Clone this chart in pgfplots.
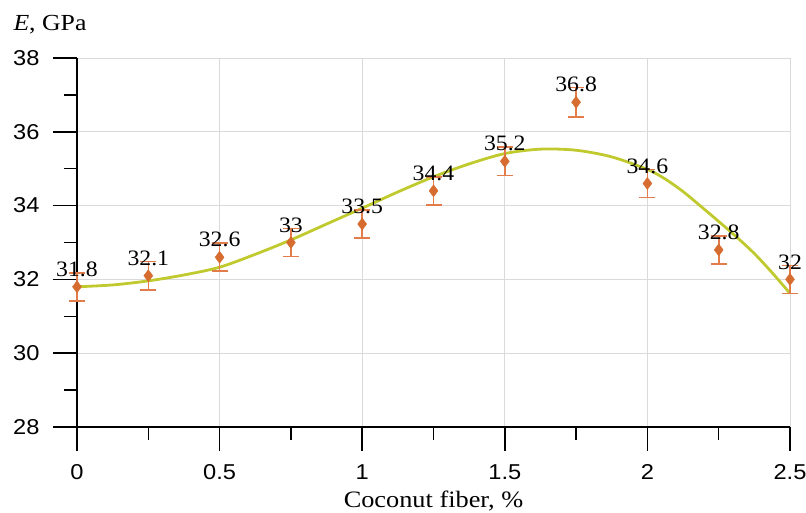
\documentclass[border=0pt]{standalone}
\usepackage{pgfplots}
\pgfplotsset{compat=1.18}
\usepackage{pgfplotstable}
\usepackage{fontspec}
\setmainfont{Liberation Serif}
\newfontfamily\sansf{Liberation Sans}
\definecolor{ptcol}{RGB}{214,108,48}
\definecolor{errcol}{RGB}{226,125,75}
\definecolor{fitcol}{RGB}{192,202,46}
\definecolor{gridcol}{RGB}{218,218,218}

\pgfplotstableread{
x y e label
0 31.8 0.38 31.8
0.25 32.1 0.38 32.1
0.5 32.6 0.38 32.6
0.75 33.0 0.38 33
1.0 33.5 0.38 33.5
1.25 34.4 0.38 34.4
1.5 35.2 0.38 35.2
1.75 36.8 0.40 36.8
2.0 34.6 0.38 34.6
2.25 32.8 0.38 32.8
2.5 32.0 0.38 32
}\measured

\pgfplotstableread{
x y
0 31.80
0.125 31.85
0.25 31.96
0.375 32.12
0.5 32.33
0.625 32.68
0.75 33.07
0.875 33.50
1.0 33.93
1.125 34.37
1.25 34.78
1.375 35.13
1.5 35.41
1.625 35.53
1.75 35.50
1.875 35.32
2.0 34.98
2.0625 34.72
2.125 34.38
2.1875 33.98
2.25 33.57
2.3125 33.15
2.375 32.70
2.4375 32.18
2.5 31.62
}\fit

\begin{document}
\begin{tikzpicture}
\path[use as bounding box] (-77pt,-86pt) rectangle (729pt,427pt);
\begin{axis}[
  scale only axis, width=713pt, height=369pt,
  xmin=0, xmax=2.5, ymin=28, ymax=38,
  clip=false,
  axis lines*=left,
  axis line style={line width=1.8pt, black},
  xtick={0,0.5,1,1.5,2,2.5},
  minor xtick={0.25,0.75,1.25,1.75,2.25},
  ytick={28,30,32,34,36,38},
  minor ytick={29,31,33,35,37},
  tick align=outside,
  major tick length=24pt, minor tick length=13pt,
  every tick/.style={black, line width=1.5pt},
  grid=major,
  major grid style={gridcol, line width=0.8pt},
  /pgf/number format/assume math mode=true,
  xticklabel={\scalebox{1.1}[1]{\pgfmathprintnumber{\tick}}},
  yticklabel={\scalebox{1.1}[1]{\pgfmathprintnumber{\tick}}},
  ticklabel style={font=\sansf\fontsize{21.5}{24}\selectfont},
  xticklabel style={yshift=-10pt},
  yticklabel style={xshift=-10pt},
  xlabel={\scalebox{1.12}[1]{Coconut fiber, \%}},
  xlabel style={font=\fontsize{23.5}{26}\selectfont, anchor=center, at={(axis description cs:0.5,0)}, yshift=-74pt},
  ylabel={\scalebox{1.12}[1]{\textit{E}, GPa}},
  ylabel style={rotate=-90, font=\fontsize{23}{26}\selectfont, anchor=center, at={(axis description cs:0,1)}, xshift=-27pt, yshift=33pt},
]
\addplot[fitcol, line width=2.8pt, smooth, no marks] table[x=x, y=y] {\fit};
\addplot[
  only marks, mark=diamond*, mark size=6pt,
  mark options={fill=ptcol, draw=ptcol},
  error bars/.cd, y dir=both, y explicit,
  error bar style={errcol, line width=1.6pt},
  error mark options={errcol, line width=1.6pt, mark size=8pt, rotate=90},
] table[x=x, y=y, y error=e] {\measured};
\addplot[
  only marks, mark=none,
  point meta=explicit symbolic,
  nodes near coords={\scalebox{1.08}[1]{\pgfplotspointmeta}},
  nodes near coords style={font=\fontsize{22}{24}\selectfont, anchor=center, yshift=17.5pt, text=black},
] table[x=x, y=y, meta=label] {\measured};
\end{axis}
\end{tikzpicture}
\end{document}
